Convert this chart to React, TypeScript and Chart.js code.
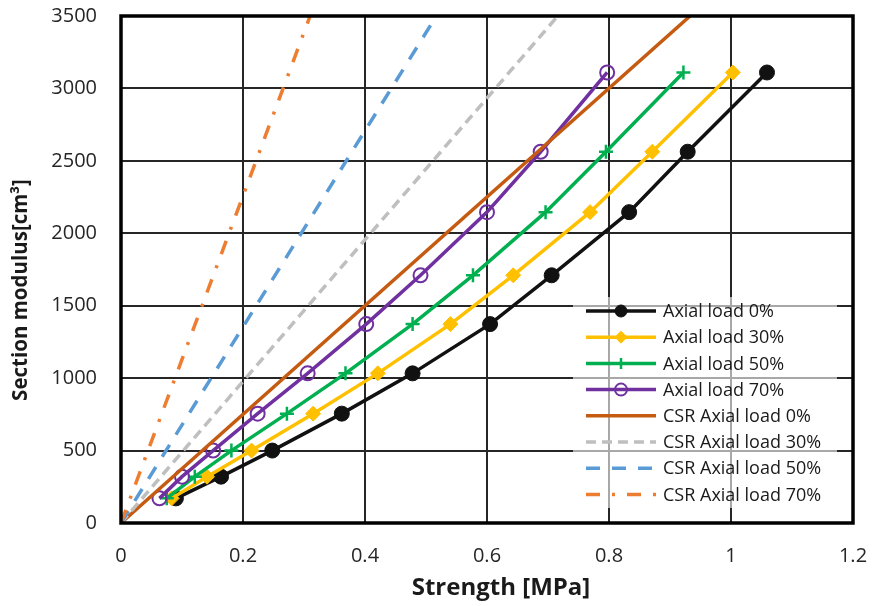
import { useEffect, useRef } from 'react';
import { Chart, registerables } from 'chart.js';

Chart.register(...registerables);

// ---- data ----
const sectionModulus = [170, 320, 500, 755, 1033, 1373, 1710, 2146, 2563, 3110];
const strengthAxial0 = [0.09, 0.164, 0.248, 0.362, 0.478, 0.605, 0.706, 0.833, 0.929, 1.059];
const strengthAxial30 = [0.083, 0.141, 0.214, 0.315, 0.421, 0.54, 0.643, 0.769, 0.871, 1.003];
const strengthAxial50 = [0.075, 0.121, 0.181, 0.272, 0.368, 0.478, 0.577, 0.696, 0.795, 0.922];
const strengthAxial70 = [0.063, 0.1, 0.151, 0.224, 0.306, 0.402, 0.491, 0.6, 0.688, 0.797];

const csrModulus = [0, 3500];
const csrStrength0 = [0, 0.933];
const csrStrength30 = [0, 0.716];
const csrStrength50 = [0, 0.517];
const csrStrength70 = [0, 0.31];

const seriesLabels = [
  'Axial load 0%',
  'Axial load 30%',
  'Axial load 50%',
  'Axial load 70%',
  'CSR Axial load 0%',
  'CSR Axial load 30%',
  'CSR Axial load 50%',
  'CSR Axial load 70%',
];

const xTicks = [0, 0.2, 0.4, 0.6, 0.8, 1, 1.2];
const yTicks = [0, 500, 1000, 1500, 2000, 2500, 3000, 3500];
const xTitle = 'Strength [MPa]';
const yTitle = 'Section modulus[cm\u00B3]';

const FONT = "'Open Sans', 'DejaVu Sans', sans-serif";

const toPts = (xs: number[], ys: number[]) => xs.map((x, i) => ({ x, y: ys[i] }));

type Style = {
  color: string;
  dash: number[];
  marker: string | null;
  fill: boolean;
  radius: number;
  markerWidth: number;
};

const styles: Style[] = [
  { color: '#111111', dash: [], marker: 'circle', fill: true, radius: 7.5, markerWidth: 1 },
  { color: '#FFC000', dash: [], marker: 'rectRot', fill: true, radius: 7.5, markerWidth: 1 },
  { color: '#00B050', dash: [], marker: 'cross', fill: false, radius: 7, markerWidth: 2.5 },
  { color: '#7030A0', dash: [], marker: 'circle', fill: false, radius: 7, markerWidth: 2 },
  { color: '#C55A11', dash: [], marker: null, fill: false, radius: 0, markerWidth: 0 },
  { color: '#BFBFBF', dash: [10, 6], marker: null, fill: false, radius: 0, markerWidth: 0 },
  { color: '#5B9BD5', dash: [14, 12], marker: null, fill: false, radius: 0, markerWidth: 0 },
  { color: '#ED7D31', dash: [14, 12, 3, 12], marker: null, fill: false, radius: 0, markerWidth: 0 },
];

function drawMarker(ctx: CanvasRenderingContext2D, s: Style, x: number, y: number, r: number) {
  if (!s.marker) return;
  ctx.save();
  ctx.setLineDash([]);
  ctx.strokeStyle = s.color;
  ctx.fillStyle = s.fill ? s.color : '#ffffff';
  ctx.lineWidth = s.markerWidth;
  ctx.beginPath();
  if (s.marker === 'circle') {
    ctx.arc(x, y, r, 0, Math.PI * 2);
    if (s.fill) ctx.fill();
    ctx.stroke();
  } else if (s.marker === 'rectRot') {
    ctx.moveTo(x, y - r);
    ctx.lineTo(x + r, y);
    ctx.lineTo(x, y + r);
    ctx.lineTo(x - r, y);
    ctx.closePath();
    ctx.fill();
    ctx.stroke();
  } else if (s.marker === 'cross') {
    ctx.moveTo(x - r, y);
    ctx.lineTo(x + r, y);
    ctx.moveTo(x, y - r);
    ctx.lineTo(x, y + r);
    ctx.stroke();
  }
  ctx.restore();
}

const overlayPlugin = {
  id: 'overlay',
  afterDraw(chart: any) {
    const ctx: CanvasRenderingContext2D = chart.ctx;
    const a = chart.chartArea;
    ctx.save();
    // frame
    ctx.strokeStyle = '#000000';
    ctx.lineWidth = 3.5;
    ctx.setLineDash([]);
    ctx.strokeRect(a.left, a.top, a.right - a.left, a.bottom - a.top);

    // legend
    const bx = 573, by = 297, bw = 264, bh = 211;
    ctx.fillStyle = 'rgba(255,255,255,0.6)';
    ctx.fillRect(bx, by, bw, bh);
    const rowY0 = 311;
    const rowH = 26.2;
    ctx.font = `18px ${FONT}`;
    ctx.textBaseline = 'middle';
    ctx.textAlign = 'left';
    seriesLabels.forEach((label, i) => {
      const s = styles[i];
      const y = rowY0 + i * rowH;
      ctx.save();
      ctx.strokeStyle = s.color;
      ctx.lineWidth = 3.5;
      ctx.lineCap = 'butt';
      ctx.setLineDash(s.dash);
      ctx.beginPath();
      ctx.moveTo(586, y);
      ctx.lineTo(656, y);
      ctx.stroke();
      ctx.restore();
      drawMarker(ctx, s, 621, y, s.marker === 'cross' ? 5.5 : 6);
      ctx.fillStyle = '#1a1a1a';
      ctx.fillText(label, 663, y + 1);
    });

    // axis titles
    ctx.fillStyle = '#1a1a1a';
    ctx.textAlign = 'center';
    ctx.textBaseline = 'middle';
    ctx.font = `bold 24px ${FONT}`;
    ctx.fillText(xTitle, 501, 588);
    ctx.save();
    ctx.font = `bold 20.5px ${FONT}`;
    ctx.translate(21, 290);
    ctx.rotate(-Math.PI / 2);
    ctx.fillText(yTitle, 0, 0);
    ctx.restore();
    ctx.restore();
  },
};

export default function App() {
  const ref = useRef<HTMLCanvasElement>(null);

  useEffect(() => {
    if (!ref.current) return;
    const strengthSets = [
      toPts(strengthAxial0, sectionModulus),
      toPts(strengthAxial30, sectionModulus),
      toPts(strengthAxial50, sectionModulus),
      toPts(strengthAxial70, sectionModulus),
      toPts(csrStrength0, csrModulus),
      toPts(csrStrength30, csrModulus),
      toPts(csrStrength50, csrModulus),
      toPts(csrStrength70, csrModulus),
    ];
    const datasets = strengthSets.map((data, i) => {
      const s = styles[i];
      return {
        label: seriesLabels[i],
        data,
        borderColor: s.color,
        backgroundColor: s.fill ? s.color : 'rgba(255,255,255,0)',
        borderWidth: 3.5,
        borderDash: s.dash,
        pointStyle: s.marker || 'circle',
        pointRadius: s.marker ? s.radius : 0,
        pointHoverRadius: s.marker ? s.radius : 0,
        pointBorderWidth: s.markerWidth,
        pointBorderColor: s.color,
        pointBackgroundColor: s.fill ? s.color : 'rgba(255,255,255,0)',
        showLine: true,
        tension: 0,
        fill: false,
        order: 10 - i,
      };
    });

    const chart = new Chart(ref.current, {
      type: 'scatter',
      data: { datasets },
      options: {
        animation: false,
        responsive: false,
        devicePixelRatio: 1,
        layout: { padding: { left: 0, top: 16, right: 22, bottom: 0 } },
        plugins: {
          legend: { display: false },
          tooltip: { enabled: false },
        },
        scales: {
          x: {
            type: 'linear',
            min: 0,
            max: 1.2,
            afterBuildTicks: (scale: any) => {
              scale.ticks = xTicks.map((v) => ({ value: v }));
            },
            afterFit: (scale: any) => {
              scale.height = 83;
              scale.paddingLeft = 0;
              scale.paddingRight = 0;
            },
            ticks: {
              padding: 21,
              color: '#262626',
              font: { family: FONT, size: 20 },
              maxRotation: 0,
              autoSkip: false,
              callback: (v: any) => String(Number(v)),
            },
            grid: { color: '#262626', lineWidth: 2, drawTicks: false },
            border: { display: false },
          },
          y: {
            type: 'linear',
            min: 0,
            max: 3500,
            afterBuildTicks: (scale: any) => {
              scale.ticks = yTicks.map((v) => ({ value: v }));
            },
            afterFit: (scale: any) => {
              scale.width = 121;
              scale.paddingTop = 0;
              scale.paddingBottom = 0;
            },
            ticks: {
              padding: 24,
              color: '#262626',
              font: { family: FONT, size: 20 },
              autoSkip: false,
              callback: (v: any) => String(Number(v)),
            },
            grid: { color: '#262626', lineWidth: 2, drawTicks: false },
            border: { display: false },
          },
        },
      },
      plugins: [overlayPlugin],
    });
    return () => chart.destroy();
  }, []);

  return (
    <div style={{ position: 'absolute', left: 0, top: 0, width: 875, height: 606, background: '#ffffff' }}>
      <canvas ref={ref} width={875} height={606} style={{ display: 'block' }} />
    </div>
  );
}
